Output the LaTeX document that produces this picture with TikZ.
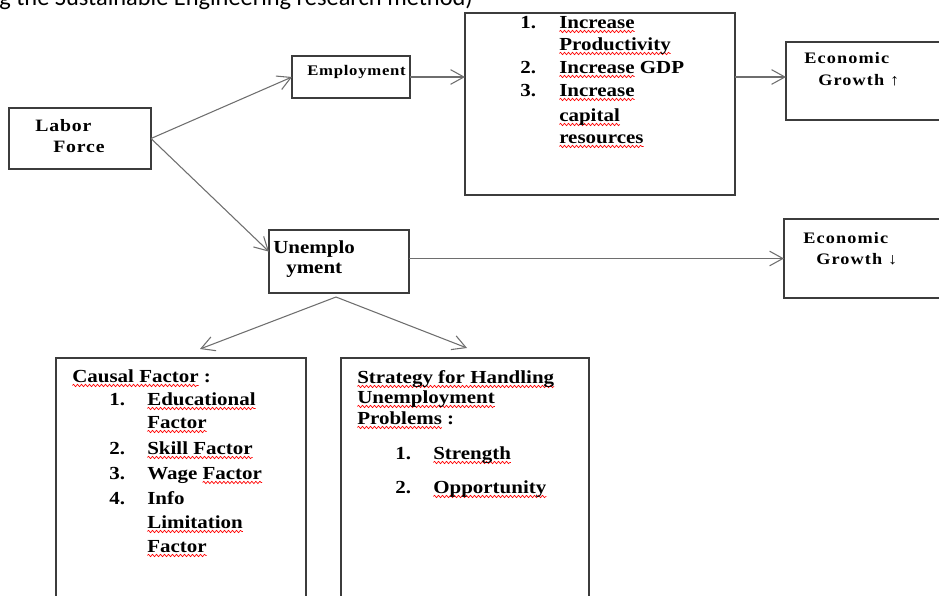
\documentclass[tikz,border=0pt]{standalone}
\usepackage{fontspec}
\setmainfont{Liberation Serif}[FakeStretch=1.14]
\newfontfamily\capfont{Carlito}
\usepackage{tikz}
\usetikzlibrary{calc,arrows.meta,decorations.pathmorphing}

\definecolor{boxgray}{RGB}{60,60,60}
\definecolor{arrowgray}{RGB}{110,110,110}

% red wavy underline of the spell checker
\newsavebox\spellbox
\newlength\spellwd
\newcommand\spell[1]{\sbox\spellbox{#1}\setlength\spellwd{\wd\spellbox}%
  \rlap{\tikz[overlay,baseline=0pt]\draw[red,line width=0.5pt,decorate,
    decoration={snake,amplitude=0.9pt,segment length=3pt}] (0pt,-2.6pt) -- (\spellwd,-2.6pt);}%
  \usebox\spellbox}

\begin{document}
\begin{tikzpicture}[x=0.75pt,y=-0.75pt,
    box/.style={draw=boxgray,line width=1.1pt,inner sep=0pt,outer sep=0pt,anchor=north west},
    txt/.style={anchor=base west,inner sep=0pt,font=\bfseries\fontsize{13.8}{16}\selectfont},
    lbl/.style={anchor=base west,inner sep=0pt,font=\bfseries\fontsize{12}{14}\selectfont\addfontfeature{LetterSpace=7}},
    arr/.style={draw=arrowgray,line width=0.8pt,-{Straight Barb[length=10pt,width=11pt]}}]

    \useasboundingbox (0,0) rectangle (939,596);
    \clip (0,0) rectangle (939,596);

    % caption, cut at the top
    \node[anchor=base west,inner sep=0pt,font=\capfont\fontsize{18.3}{22}\selectfont] (cap) at (-1,5) {g the Sustainable Engineering research method)};

    % boxes
    \node[box,minimum width=106.5pt,minimum height=45.75pt] (labor) at (9,108) {};
    \node[box,minimum width=88.5pt,minimum height=31.5pt] (employ) at (292,56) {};
    \node[box,minimum width=202.5pt,minimum height=136.5pt] (effects) at (465,13) {};
    \node[box,minimum width=142.5pt,minimum height=58.5pt] (growthup) at (786,42) {};
    \node[box,minimum width=105pt,minimum height=47.25pt] (unemp) at (269,230) {};
    \node[box,minimum width=142.5pt,minimum height=59.25pt] (growthdown) at (784,219) {};
    \node[box,minimum width=187.5pt,minimum height=196.5pt] (causal) at (56,358) {};
    \node[box,minimum width=186pt,minimum height=196.5pt] (strategy) at (341,358) {};

    % texts
    \node[lbl,font=\bfseries\fontsize{13}{15}\selectfont\addfontfeature{LetterSpace=5}] (labor1) at (35,131) {Labor};
    \node[lbl,font=\bfseries\fontsize{13}{15}\selectfont\addfontfeature{LetterSpace=5}] (labor2) at (53,152) {Force};
    \node[lbl,font=\bfseries\fontsize{11}{13}\selectfont\addfontfeature{LetterSpace=5}] (emptxt) at (307,75) {Employment};

    \node[txt] (eff1n) at (520,28) {1.};
    \node[txt] (eff1) at (559,28) {\spell{Increase}};
    \node[txt] (eff1b) at (559,50) {\spell{Productivity}};
    \node[txt] (eff2n) at (520,73) {2.};
    \node[txt] (eff2) at (559,73) {\spell{Increase} GDP};
    \node[txt] (eff3n) at (520,96) {3.};
    \node[txt] (eff3) at (559,96) {\spell{Increase}};
    \node[txt] (eff3b) at (559,121) {\spell{capital}};
    \node[txt] (eff3c) at (559,143) {\spell{resources}};

    \node[lbl] (up1) at (804,63) {Economic};
    \node[lbl] (up2) at (818,85) {Growth ↑};

    \node[txt] (unemp1) at (273,253) {Unemplo};
    \node[txt] (unemp2) at (286,273) {yment};

    \node[lbl] (down1) at (803,243) {Economic};
    \node[lbl] (down2) at (816,264) {Growth ↓};

    \node[txt] (cause) at (72,382) {\spell{Causal Factor} :};
    \node[txt] (cause1n) at (109,405) {1.};
    \node[txt] (cause1) at (147,405) {\spell{Educational}};
    \node[txt] (cause1b) at (147,428) {\spell{Factor}};
    \node[txt] (cause2n) at (109,454) {2.};
    \node[txt] (cause2) at (147,454) {\spell{Skill Factor}};
    \node[txt] (cause3n) at (109,479) {3.};
    \node[txt] (cause3) at (147,479) {Wage \spell{Factor}};
    \node[txt] (cause4n) at (109,504) {4.};
    \node[txt] (cause4) at (147,504) {Info};
    \node[txt] (cause4b) at (147,528) {\spell{Limitation}};
    \node[txt] (cause4c) at (147,552) {\spell{Factor}};

    \node[txt] (strat) at (357,383) {\spell{Strategy for Handling}};
    \node[txt] (strat2) at (357,403) {\spell{Unemployment}};
    \node[txt] (strat3) at (357,424) {\spell{Problems} :};
    \node[txt] (strat1n) at (395,459) {1.};
    \node[txt] (strat1) at (433,459) {\spell{Strength}};
    \node[txt] (strat2n) at (395,493) {2.};
    \node[txt] (strat2b) at (433,493) {\spell{Opportunity}};

    % arrows
    \draw[arr] (labor.east) -- (employ.west);
    \draw[arr] (labor.east) -- (unemp.172);
    \draw[arr] (employ.east) -- (employ.east -| effects.west);
    \draw[arr] (employ.east -| effects.east) -- (employ.east -| growthup.west);
    \draw[arr] (growthdown.west -| unemp.east) -- (growthdown.west);

    \coordinate (split) at ($(unemp.south)+(-3,4)$);
    \coordinate (tocausal) at ($(causal.north)+(19,-9)$);
    \coordinate (tostrategy) at ($(strategy.north)+(2,-10)$);
    \draw[arr] (split) -- (tocausal);
    \draw[arr] (split) -- (tostrategy);
\end{tikzpicture}
\end{document}
